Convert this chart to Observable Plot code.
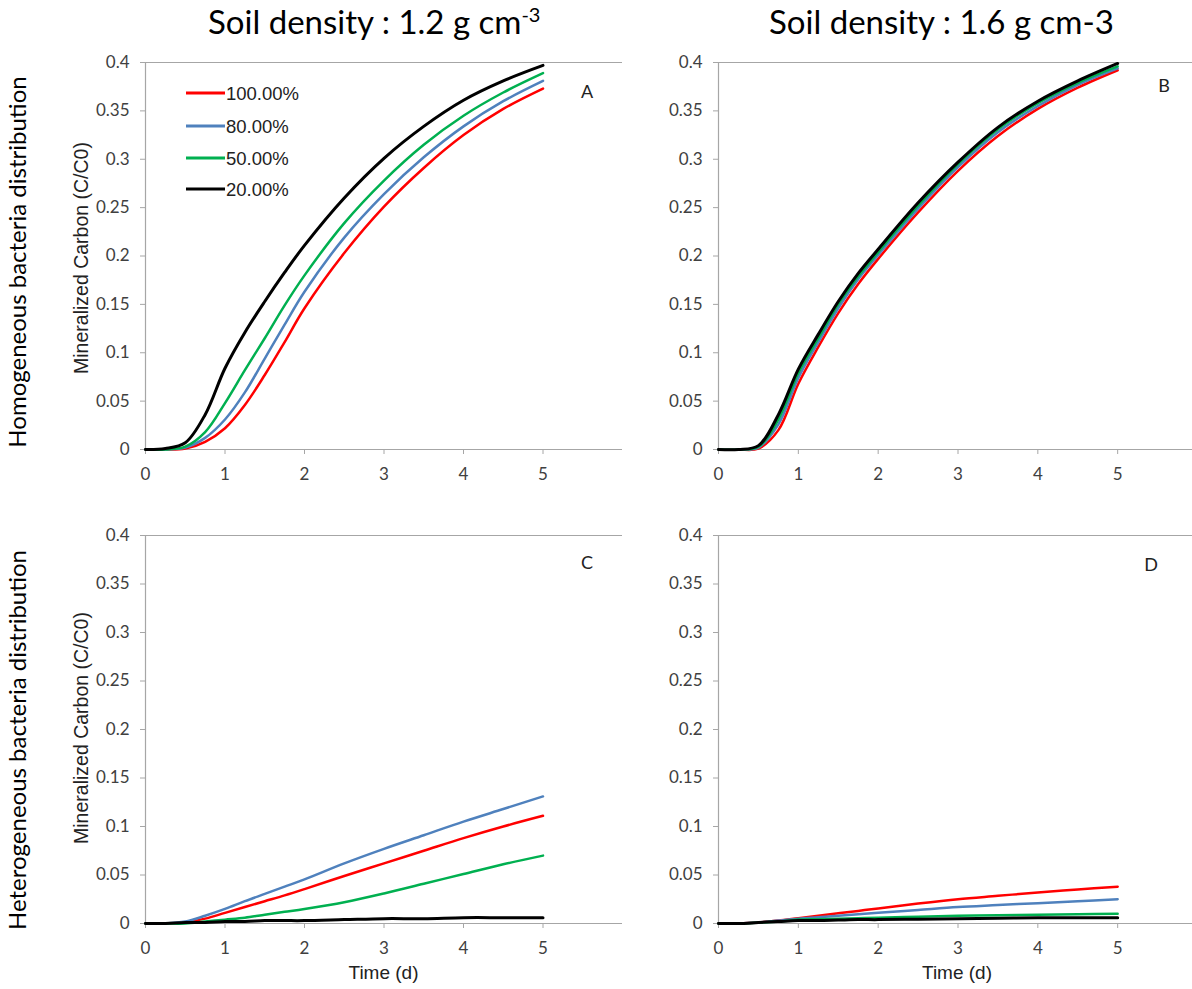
<!DOCTYPE html>
<html><head><meta charset="utf-8">
<script src="https://cdn.jsdelivr.net/npm/d3@7"></script>
<script src="https://cdn.jsdelivr.net/npm/@observablehq/plot@0.6"></script>
<style>
html,body{margin:0;padding:0;background:#fff;overflow:hidden;}
#chart{position:relative;width:1192px;height:989px;overflow:hidden;background:#fff;}
</style></head><body><div id="chart"></div>
<script>
// ---- data ----
const time = [0, 0.25, 0.5, 0.75, 1, 1.25, 1.5, 1.75, 2, 2.5, 3, 3.5, 4, 4.5, 5];
const seriesNames = ["100.00%", "80.00%", "50.00%", "20.00%"];
const seriesColors = ["#ff0000", "#4f81bd", "#00b050", "#000000"];
const xTicks = [0, 1, 2, 3, 4, 5];
const yTicks = [0, 0.05, 0.1, 0.15, 0.2, 0.25, 0.3, 0.35, 0.4];
const columnTitles = ["Soil density : 1.2 g cm", "Soil density : 1.6 g cm-3"];
const rowTitles = ["Homogeneous bacteria distribution", "Heterogeneous bacteria distribution"];
const panelLetters = ["A", "B", "C", "D"];

// Panel A : density 1.2, homogeneous
const A_100 = [0, 0, 0.001, 0.008, 0.022, 0.046, 0.077, 0.111, 0.146, 0.203, 0.251, 0.291, 0.325, 0.352, 0.373];
const A_80  = [0, 0, 0.002, 0.012, 0.031, 0.059, 0.094, 0.129, 0.163, 0.219, 0.264, 0.302, 0.334, 0.360, 0.381];
const A_50  = [0, 0, 0.003, 0.018, 0.048, 0.082, 0.115, 0.149, 0.180, 0.234, 0.278, 0.315, 0.345, 0.369, 0.389];
const A_20  = [0, 0.001, 0.007, 0.036, 0.084, 0.121, 0.153, 0.183, 0.211, 0.260, 0.301, 0.334, 0.361, 0.381, 0.397];
// Panel B : density 1.6, homogeneous
const B_100 = [0, 0, 0.001, 0.020, 0.068, 0.106, 0.141, 0.171, 0.197, 0.245, 0.288, 0.324, 0.352, 0.374, 0.392];
const B_80  = [0, 0, 0.002, 0.026, 0.074, 0.111, 0.146, 0.176, 0.201, 0.249, 0.292, 0.328, 0.355, 0.377, 0.394];
const B_50  = [0, 0, 0.003, 0.031, 0.079, 0.115, 0.150, 0.179, 0.204, 0.252, 0.295, 0.331, 0.358, 0.379, 0.396];
const B_20  = [0, 0, 0.004, 0.036, 0.083, 0.119, 0.153, 0.182, 0.207, 0.255, 0.297, 0.333, 0.360, 0.381, 0.399];
// Panel C : density 1.2, heterogeneous
const C_100 = [0, 0, 0.001, 0.005, 0.011, 0.017, 0.023, 0.029, 0.0355, 0.049, 0.062, 0.075, 0.088, 0.100, 0.111];
const C_80  = [0, 0, 0.002, 0.008, 0.015, 0.023, 0.0305, 0.038, 0.0455, 0.062, 0.077, 0.091, 0.105, 0.118, 0.131];
const C_50  = [0, 0, 0, 0.002, 0.004, 0.006, 0.009, 0.012, 0.015, 0.022, 0.031, 0.041, 0.051, 0.061, 0.070];
const C_20  = [0, 0, 0.001, 0.001, 0.002, 0.002, 0.003, 0.003, 0.003, 0.004, 0.005, 0.005, 0.006, 0.006, 0.006];
// Panel D : density 1.6, heterogeneous
const D_100 = [0, 0, 0.001, 0.003, 0.0055, 0.008, 0.0105, 0.013, 0.0155, 0.0205, 0.025, 0.0285, 0.032, 0.035, 0.038];
const D_80  = [0, 0, 0.001, 0.003, 0.005, 0.0065, 0.008, 0.0095, 0.011, 0.014, 0.017, 0.019, 0.021, 0.023, 0.025];
const D_50  = [0, 0, 0.001, 0.002, 0.004, 0.0045, 0.005, 0.0055, 0.006, 0.007, 0.008, 0.0085, 0.009, 0.0095, 0.010];
const D_20  = [0, 0, 0.001, 0.002, 0.003, 0.003, 0.0035, 0.004, 0.004, 0.0045, 0.005, 0.0055, 0.006, 0.006, 0.006];

// ---- layout ----
const chart = document.getElementById("chart");
const AXIS = "#a6a6a6";
const TICKTXT = "#404040";
const fmt = d => String(Math.round(d * 100) / 100);

const panels = [
  {series: [A_100, A_80, A_50, A_20], left: 0,   top: 40,  width: 640, height: 449, ml: 145, mr: 18, mt: 22, mb: 40},
  {series: [B_100, B_80, B_50, B_20], left: 620, top: 40,  width: 577, height: 449, ml: 98,  mr: 0,  mt: 22, mb: 40},
  {series: [C_100, C_80, C_50, C_20], left: 0,   top: 510, width: 640, height: 463, ml: 145, mr: 18, mt: 25, mb: 50},
  {series: [D_100, D_80, D_50, D_20], left: 620, top: 510, width: 577, height: 463, ml: 98,  mr: 0,  mt: 25, mb: 50}
];

panels.forEach(p => {
  const lines = p.series.map((vals, i) =>
    Plot.line(time.map((t, j) => ({t, v: vals[j]})), {
      x: "t", y: "v", stroke: seriesColors[i],
      strokeWidth: i === 3 ? 3 : 2.5, curve: "catmull-rom"
    }));
  const svg = Plot.plot({
    width: p.width, height: p.height,
    marginLeft: p.ml, marginRight: p.mr, marginTop: p.mt, marginBottom: p.mb,
    style: {background: "transparent", fontFamily: "Lato", fontSize: "17px", overflow: "visible", maxWidth: "none"},
    x: {domain: [0, 6]},
    y: {domain: [0, 0.4]},
    marks: [
      Plot.axisY({ticks: yTicks, tickFormat: fmt, tickSize: 5, tickPadding: 11, stroke: AXIS, fill: TICKTXT, label: null}),
      Plot.axisX({ticks: xTicks, tickFormat: fmt, tickSize: 5, tickPadding: 13, stroke: AXIS, fill: TICKTXT, label: null}),
      Plot.ruleY([0, 0.4], {stroke: AXIS, strokeWidth: 1.2}),
      Plot.ruleX([0], {stroke: AXIS, strokeWidth: 1.2}),
      ...lines
    ]
  });
  svg.style.position = "absolute";
  svg.style.left = p.left + "px";
  svg.style.top = p.top + "px";
  chart.appendChild(svg);
});

// ---- annotation overlay (titles, labels, legend) ----
const ov = d3.select(chart).append("svg")
  .attr("width", 1192).attr("height", 989)
  .style("position", "absolute").style("left", "0px").style("top", "0px")
  .style("pointer-events", "none");

const t1 = ov.append("text").attr("x", 208).attr("y", 34)
  .attr("font-family", "Lato").attr("font-size", 33).attr("fill", "#000");
t1.append("tspan").text(columnTitles[0]);
t1.append("tspan").attr("dy", -12).attr("font-size", 20).text("-3");
ov.append("text").attr("x", 769).attr("y", 34)
  .attr("font-family", "Lato").attr("font-size", 33).attr("fill", "#000")
  .text(columnTitles[1]);

[[26, 262], [26, 740]].forEach(([x, y], i) => {
  ov.append("text").attr("transform", `translate(${x},${y}) rotate(-90)`)
    .attr("text-anchor", "middle").attr("font-family", "Lato").attr("font-size", 24)
    .attr("fill", "#000").text(rowTitles[i]);
});

[258, 728].forEach(y => {
  ov.append("text").attr("transform", `translate(88,${y}) rotate(-90)`)
    .attr("text-anchor", "middle").attr("font-family", "Liberation Sans").attr("font-size", 19.5)
    .attr("fill", "#222").text("Mineralized Carbon (C/C0)");
});

[383.5, 957].forEach(x => {
  ov.append("text").attr("x", x).attr("y", 979).attr("text-anchor", "middle")
    .attr("font-family", "Liberation Sans").attr("font-size", 19)
    .attr("fill", "#222").text("Time (d)");
});

[[587, 98], [1164, 92], [587, 569], [1151, 571]].forEach(([x, y], i) => {
  ov.append("text").attr("x", x).attr("y", y).attr("text-anchor", "middle")
    .attr("font-family", "Lato").attr("font-size", 18).attr("fill", "#222").text(panelLetters[i]);
});

[93, 126, 158, 189].forEach((y, i) => {
  ov.append("line").attr("x1", 186).attr("x2", 225).attr("y1", y).attr("y2", y)
    .attr("stroke", seriesColors[i]).attr("stroke-width", 3);
  ov.append("text").attr("x", 226).attr("y", y + 6.5)
    .attr("font-family", "Liberation Sans").attr("font-size", 18.5)
    .attr("fill", "#222").text(seriesNames[i]);
});
</script></body></html>
